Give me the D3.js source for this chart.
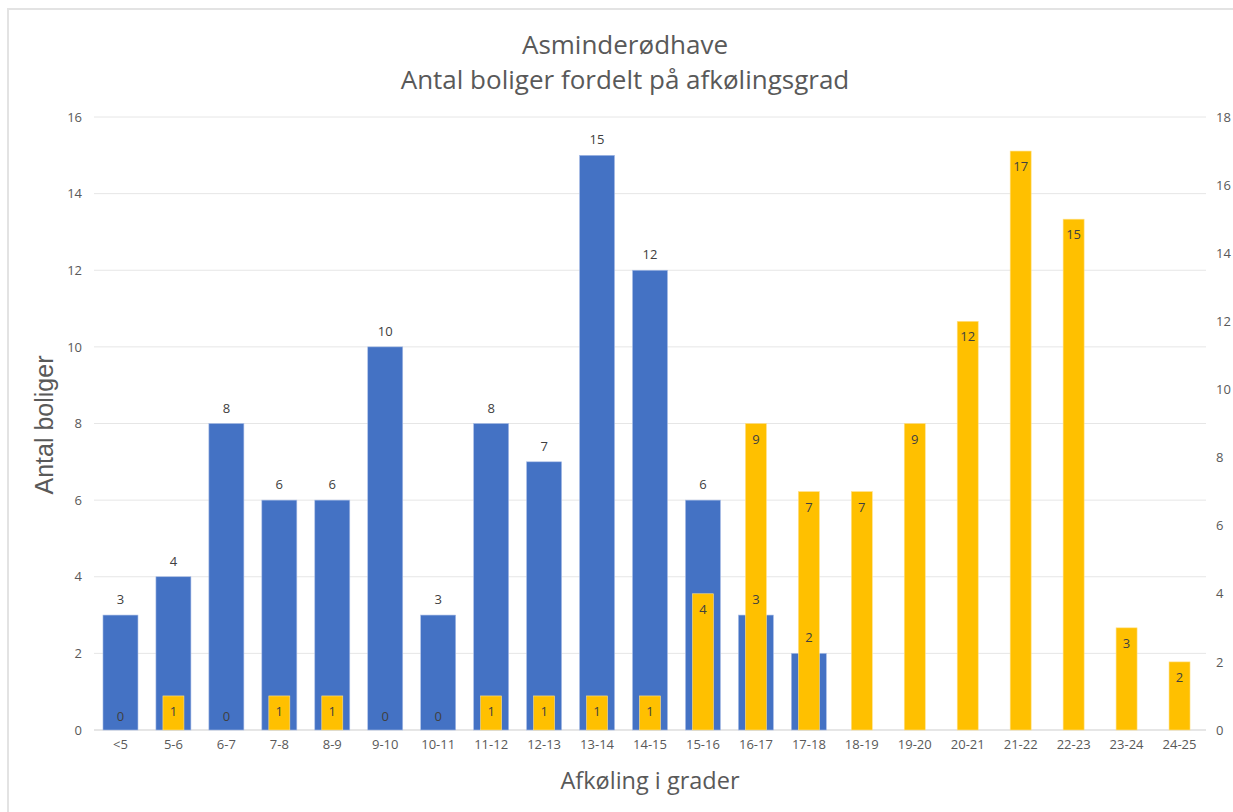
<!DOCTYPE html>
<html><head><meta charset="utf-8">
<script src="https://cdn.jsdelivr.net/npm/d3@7"></script>
<style>body{margin:0;background:#fff}svg{display:block}</style>
</head><body>
<svg id="c" width="1233" height="812"></svg>
<script>
const categories = ["<5","5-6","6-7","7-8","8-9","9-10","10-11","11-12","12-13","13-14","14-15","15-16","16-17","17-18","18-19","19-20","20-21","21-22","22-23","23-24","24-25"];
const blueValues = [3,4,8,6,6,10,3,8,7,15,12,6,3,2,null,null,null,null,null,null,null];
const yellowValues = [0,1,0,1,1,0,0,1,1,1,1,4,9,7,7,9,12,17,15,3,2];
const leftTicks = [0,2,4,6,8,10,12,14,16];
const rightTicks = [0,2,4,6,8,10,12,14,16,18];
const titleLines = ["Asminderødhave","Antal boliger fordelt på afkølingsgrad"];
const xTitle = "Afkøling i grader";
const yTitle = "Antal boliger";

(function(){
const svg = d3.select("#c");
const font = "Open Sans, sans-serif";
const grey = "#595959";
const pL = 94, pR = 1206, pT = 117, pB = 730;

svg.append("rect").attr("x",8).attr("y",9).attr("width",1240).attr("height",820)
  .attr("fill","none").attr("stroke","#e3e3e3").attr("stroke-width",2);

const x = d3.scaleBand().domain(categories).range([pL,pR]);
const yL = d3.scaleLinear().domain([0,16]).range([pB,pT]);
const yR = d3.scaleLinear().domain([0,18]).range([pB,pT]);

svg.append("g").selectAll("line").data(leftTicks).join("line")
  .attr("x1",pL).attr("x2",pR).attr("y1",d=>yL(d)).attr("y2",d=>yL(d))
  .attr("stroke","#e6e6e6").attr("stroke-width",1);

const gL = svg.append("g").attr("transform",`translate(${pL},0)`)
  .call(d3.axisLeft(yL).tickValues(leftTicks).tickSize(0).tickPadding(12));
const gR = svg.append("g").attr("transform",`translate(${pR},0)`)
  .call(d3.axisRight(yR).tickValues(rightTicks).tickSize(0).tickPadding(10));
const gX = svg.append("g").attr("transform",`translate(0,${pB})`)
  .call(d3.axisBottom(x).tickSize(0).tickPadding(10));
[gL,gR,gX].forEach(g=>{
  g.select(".domain").remove();
  g.selectAll("text").attr("fill",grey).style("font-family",font).style("font-size","13px");
});
svg.append("line").attr("x1",pL).attr("x2",pR).attr("y1",pB).attr("y2",pB)
  .attr("stroke","#d9d9d9").attr("stroke-width",1);

const bw = 35, yw = 21;
const blueData = categories.map((c,i)=>({c,v:blueValues[i]})).filter(d=>d.v!==null);
const yellowData = categories.map((c,i)=>({c,v:yellowValues[i]}));

svg.append("g").selectAll("rect").data(blueData).join("rect")
  .attr("x",d=>x(d.c)+x.bandwidth()/2-bw/2).attr("width",bw)
  .attr("y",d=>yL(d.v)).attr("height",d=>pB-yL(d.v))
  .attr("fill","#4472C4").attr("stroke","#a9bde6").attr("stroke-width",0.6);

svg.append("g").selectAll("rect").data(yellowData.filter(d=>d.v>0)).join("rect")
  .attr("x",d=>x(d.c)+x.bandwidth()/2-yw/2).attr("width",yw)
  .attr("y",d=>yR(d.v)).attr("height",d=>pB-yR(d.v))
  .attr("fill","#FFC000").attr("stroke","#ffe08a").attr("stroke-width",0.6);

svg.append("g").selectAll("text").data(blueData).join("text")
  .attr("x",d=>x(d.c)+x.bandwidth()/2).attr("y",d=>yL(d.v)-11)
  .attr("text-anchor","middle").attr("fill","#404040")
  .style("font-family",font).style("font-size","13px").text(d=>d.v);

svg.append("g").selectAll("text").data(yellowData).join("text")
  .attr("x",d=>x(d.c)+x.bandwidth()/2).attr("y",d=>Math.min(yR(d.v)+20, pB-9))
  .attr("text-anchor","middle").attr("fill","#404040")
  .style("font-family",font).style("font-size","13px").text(d=>d.v);

svg.append("text").attr("x",625).attr("y",54).attr("text-anchor","middle")
  .attr("fill",grey).style("font-family",font).style("font-size","26px").text(titleLines[0]);
svg.append("text").attr("x",625).attr("y",89).attr("text-anchor","middle")
  .attr("fill",grey).style("font-family",font).style("font-size","26px").text(titleLines[1]);
svg.append("text").attr("x",650).attr("y",789).attr("text-anchor","middle")
  .attr("fill",grey).style("font-family",font).style("font-size","23.5px").text(xTitle);
svg.append("text").attr("transform","translate(53,425) rotate(-90)").attr("text-anchor","middle")
  .attr("fill",grey).style("font-family","Liberation Sans, Arial, sans-serif").style("font-size","25px").text(yTitle);
})();
</script>
</body></html>
